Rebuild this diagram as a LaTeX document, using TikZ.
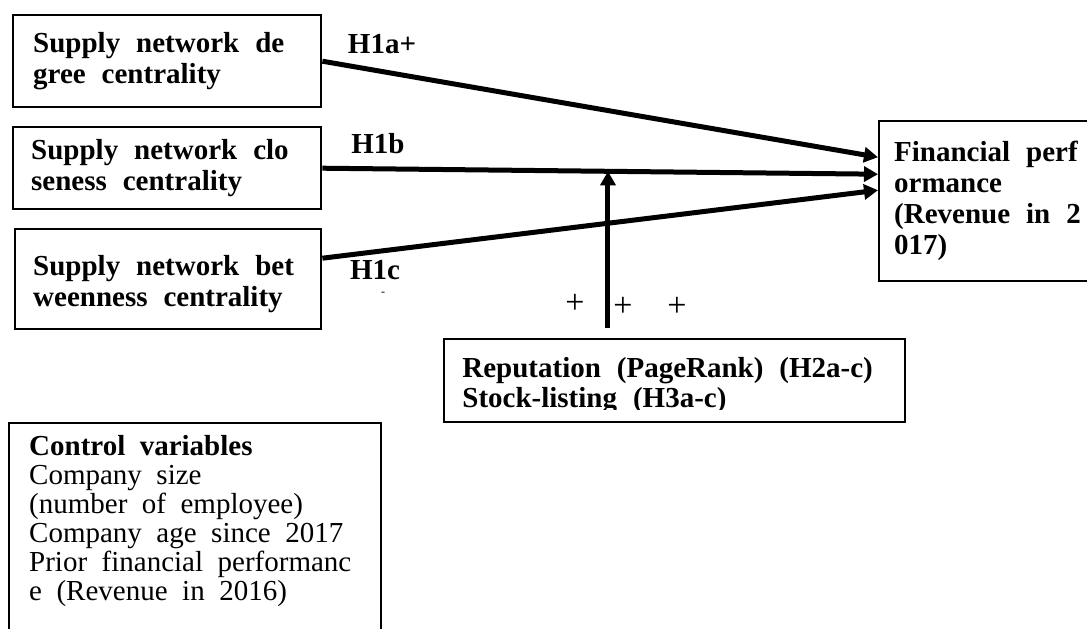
\documentclass[tikz,border=0pt]{standalone}
\usepackage{fontspec}
\setmainfont{Liberation Serif}
\usetikzlibrary{arrows.meta, calc}

\begin{document}
\begin{tikzpicture}[x=0.5pt, y=-0.5pt,
  every node/.style={inner sep=0pt, font=\rmfamily\fontsize{14.5}{15}\selectfont},
  wide/.style={execute at begin node={\spaceskip=#1em\relax}},
  varbox/.style={draw, line width=1.2pt, anchor=north west, align=left,
    font=\rmfamily\bfseries\fontsize{14.5}{15.5}\selectfont, wide=0.55},
  boxtext/.style={anchor=north west, align=left,
    font=\rmfamily\bfseries\fontsize{14.5}{15}\selectfont, wide=0.55},
  hyp/.style={font=\rmfamily\bfseries\fontsize{14.5}{15}\selectfont},
  link/.style={line width=2.5pt, -{Triangle[length=7pt,width=7.5pt]}}]
  \useasboundingbox (0,0) rectangle (1087,628);
  \clip (0,0) rectangle (1087,628);
  \path (12,14) node[varbox, minimum height=46pt, text width=134pt, inner xsep=10pt] (deg) {Supply network de\\gree centrality}
  (12,126) node[varbox, minimum height=41pt, text width=136pt, inner xsep=9pt] (clo) {Supply network clo\\seness centrality}
  (14,228) node[varbox, minimum height=50pt, text width=135pt, inner xsep=9pt, text height=15pt] (bet) {Supply network bet\\weenness centrality}
  (878,120) node[varbox, minimum width=140pt, minimum height=80pt, text width=125pt, inner xsep=7.5pt] (fin) {Financial perf\\ormance\\(Revenue in 2\\017)}
  (443,338) node[varbox, minimum width=230.5pt, minimum height=41.5pt] (rep) {}
  (8,422) node[varbox, text width=166pt, inner xsep=10pt, inner ysep=6pt, text depth=110pt,
    font=\rmfamily\fontsize{14.5}{14.5}\selectfont, wide=0.5] (ctrl) {\textbf{Control variables}\\Company size\\(number of employee)\\Company age since 2017\\Prior financial performanc\\e (Revenue in 2016)};
  \begin{scope}
    \clip ([xshift=2pt,yshift=-2pt]rep.north west) rectangle ([xshift=-2pt,yshift=7pt]rep.south east);
    \node[boxtext, inner xsep=9.5pt, inner ysep=9.5pt] (reptxt) at (rep.north west) {Reputation (PageRank) (H2a-c)\\Stock-listing (H3a-c)};
  \end{scope}
  \path (382,44) node[hyp] (h1a) {H1a+}
  (378,144) node[hyp] (h1b) {H1b}
  (375,270) node[hyp] (h1c) {H1c}
  (383,294) node[font=\fontsize{6}{6}\selectfont] (tick) {-}
  (575,304) node[font=\rmfamily\fontsize{17}{17}\selectfont] (plus1) {+}
  (623,307) node[font=\rmfamily\fontsize{17}{17}\selectfont] (plus2) {+}
  (677,307) node[font=\rmfamily\fontsize{17}{17}\selectfont] (plus3) {+};
  \draw[link] (deg.east) -- ([yshift=22pt]fin.west);
  \draw[link] (clo.east) -- ([yshift=13.5pt]fin.west);
  \draw[link] ([yshift=10.5pt]bet.east) -- ([yshift=5.5pt]fin.west);
  \coordinate (mod) at ($(clo.east)!0.514!([yshift=13.5pt]fin.west)$);
  \draw[link] ($(rep.north -| mod)+(0,-10)$) -- (mod);
\end{tikzpicture}
\end{document}
